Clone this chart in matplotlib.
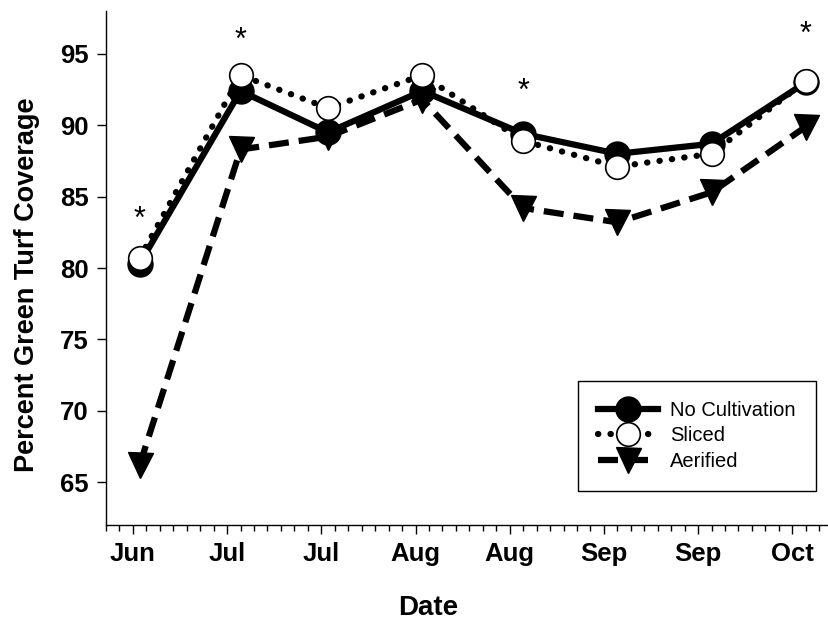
import numpy as np
import matplotlib.pyplot as plt
import matplotlib.dates as mdates

plt.rcParams['font.family'] = ['Liberation Sans', 'DejaVu Sans']

# sampling dates and mean green cover for each cultivation treatment
dates = np.array(['2011-06-28', '2011-07-13', '2011-07-26', '2011-08-09',
                  '2011-08-24', '2011-09-07', '2011-09-21', '2011-10-05'],
                 dtype='datetime64[D]')
no_cultivation = [80.3, 92.4, 89.5, 92.4, 89.4, 88.0, 88.7, 93.0]
sliced = [80.7, 93.5, 91.2, 93.5, 88.9, 87.1, 88.0, 93.1]
aerified = [66.2, 88.3, 89.2, 91.8, 84.2, 83.2, 85.3, 89.9]

# dates with a significant treatment effect, and the height of the star
star_idx = [0, 1, 4, 7]
star_y = [83.4, 95.9, 92.3, 96.3]

# biweekly major ticks
tick_start = np.datetime64('2011-06-27')

fig = plt.figure(figsize=(8.29, 6.21), dpi=100)
ax = fig.add_axes([106 / 829, 96 / 621, 723 / 829, 514 / 621])

x = mdates.date2num(dates)
lw = 4.5

ax.plot(x, aerified, color='black', lw=lw, linestyle=(0, (3.2, 1.6)),
        marker='v', markersize=18, markerfacecolor='black',
        markeredgecolor='black', label='Aerified', zorder=2)
ax.plot(x, no_cultivation, color='black', lw=lw, linestyle='-',
        marker='o', markersize=18, markerfacecolor='black',
        markeredgecolor='black', label='No Cultivation', zorder=3)
ax.plot(x, sliced, color='black', lw=lw, linestyle=(0, (0.05, 1.95)),
        dash_capstyle='round', marker='o', markersize=17,
        markerfacecolor='white', markeredgecolor='black',
        markeredgewidth=1.2, label='Sliced', zorder=4)

for i, yv in zip(star_idx, star_y):
    ax.text(x[i], yv, '*', ha='center', va='center', fontsize=22)

x0 = mdates.date2num(tick_start)
ax.set_xlim(x0 - 4, x0 + 103.45)
ax.set_ylim(62, 98)

ax.set_xticks([x0 + 14 * k for k in range(8)])
ax.set_xticks(np.arange(x0 - 4, x0 + 104, 2), minor=True)
ax.xaxis.set_major_formatter(mdates.DateFormatter('%b'))
ax.set_yticks([65, 70, 75, 80, 85, 90, 95])

ax.tick_params(axis='both', which='major', direction='out', length=6.5,
               width=1, labelsize=18.5, pad=6)
ax.tick_params(axis='x', which='minor', direction='out', length=4, width=1)
for lab in ax.get_xticklabels() + ax.get_yticklabels():
    lab.set_fontweight('bold')

for side in ['top', 'right']:
    ax.spines[side].set_visible(False)
for side in ['left', 'bottom']:
    ax.spines[side].set_linewidth(1)

ax.set_xlabel('Date', fontsize=20, fontweight='bold')
ax.set_ylabel('Percent Green Turf Coverage', fontsize=19.5, fontweight='bold')
ax.xaxis.set_label_coords(0.445, -0.136)
ax.yaxis.set_label_coords(-0.091, 0.467)

handles, labels = ax.get_legend_handles_labels()
order = [1, 2, 0]
leg = ax.legend([handles[i] for i in order], [labels[i] for i in order],
                loc='lower right', bbox_to_anchor=(0.982, 0.066),
                borderaxespad=0, fontsize=14.5, handlelength=3.0,
                handletextpad=0.6, labelspacing=0.33, borderpad=1.0,
                fancybox=False, framealpha=1, edgecolor='black')
leg.get_frame().set_linewidth(1)

fig.savefig('out.png', dpi=100)
